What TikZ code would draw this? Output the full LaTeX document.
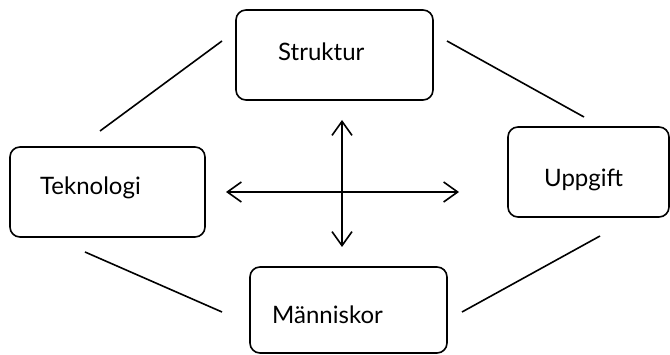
\documentclass[tikz,border=0pt]{standalone}
\usepackage{fontspec}
\setmainfont{Lato}
\usetikzlibrary{arrows.meta}
\tikzset{
  box/.style  ={draw,line width=1.6pt,rounded corners=10pt,inner sep=0pt},
  txt/.style  ={font=\fontsize{24}{28}\selectfont,inner sep=0pt,anchor=west},
  link/.style ={line width=1.6pt},
  ar/.style   ={line width=1.6pt,{Straight Barb[length=14pt,width=20pt]}-{Straight Barb[length=14pt,width=20pt]}},
}
\begin{document}
\begin{tikzpicture}[x=1pt,y=-1pt]
  \useasboundingbox (0,0) rectangle (670,355);
  % the four boxes
  \node[box,minimum width=197pt,minimum height=90pt] (str) at (334.5,55) {};
  \node[box,minimum width=161pt,minimum height=90pt] (upp) at (588.5,172) {};
  \node[box,minimum width=195pt,minimum height=90pt] (tek) at (107.5,192) {};
  \node[box,minimum width=197pt,minimum height=86pt] (man) at (348.5,310) {};
  \node[txt] (str-t) at (278,52) {Struktur};
  \node[txt] (upp-t) at (544,180) {Uppgift};
  \node[txt] (tek-t) at (40,188) {Teknologi};
  \node[txt] (man-t) at (272,315) {Människor};
  % free ends of the links and arrows
  \coordinate (a1) at (222,41);  \coordinate (a2) at (100,131);
  \coordinate (b1) at (447,41);  \coordinate (b2) at (584,117);
  \coordinate (c1) at (85,252);  \coordinate (c2) at (222,312);
  \coordinate (d1) at (600,236); \coordinate (d2) at (462,312);
  \coordinate (n) at (342,120);  \coordinate (s) at (342,247);
  \coordinate (w) at (226,192);  \coordinate (e) at (459,192);
  \draw[link] (a1) -- (a2);
  \draw[link] (b1) -- (b2);
  \draw[link] (c1) -- (c2);
  \draw[link] (d1) -- (d2);
  \draw[ar] (n) -- (s);
  \draw[ar] (w) -- (e);
\end{tikzpicture}
\end{document}
